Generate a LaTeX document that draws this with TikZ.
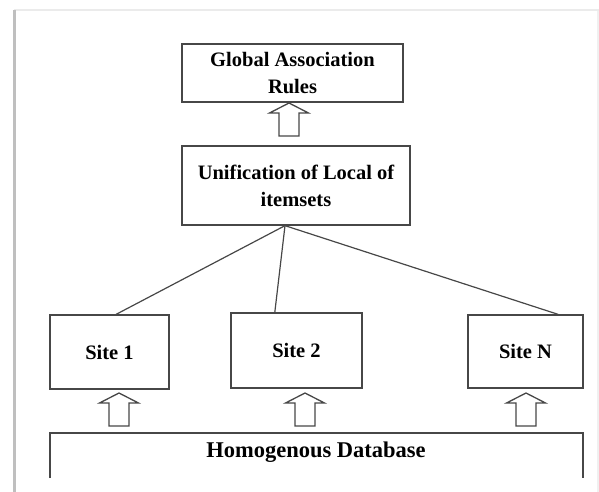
\documentclass[tikz,border=0pt]{standalone}
\usepackage{fontspec}
\setmainfont{Liberation Serif}
\usepackage{tikz}
\usetikzlibrary{calc}

\tikzset{
	box/.style={draw=black!72, line width=1.3pt, fill=white, align=center, font=\bfseries\fontsize{20.5}{27}\selectfont},
	link/.style={draw=black!72, line width=1.2pt},
	hollowup/.pic={\draw[black!72, line width=1.3pt, fill=white, line join=miter]
		(0,0) -- (19.5,10) -- (10,10) -- (10,33) -- (-10,33) -- (-10,10) -- (-19.5,10) -- cycle;}
}

\begin{document}
\begin{tikzpicture}[x=1pt, y=-1pt]
		\useasboundingbox (0,0) rectangle (599,492);
		\draw[black!8, line width=2pt] (14,10) -- (599,10);
		\draw[black!6, line width=1.5pt] (598,11) -- (598,492);
		\draw[black!25, line width=3pt] (14,10) -- (14,492);
		
		\node[box, minimum width=221pt, minimum height=58pt] (glob) at (292.5,73) {Global Association\\Rules};
		\node[box, minimum width=228pt, minimum height=79pt] (unif) at (296,185.5) {Unification of Local of\\itemsets};
		
		\node[box, minimum width=119pt, minimum height=74pt] (s1) at (109.5,352) {Site 1};
		\node[box, minimum width=131pt, minimum height=75pt] (s2) at (296.5,350.5) {Site 2};
		\node[box, minimum width=115pt, minimum height=73pt] (sN) at (525.5,351.5) {Site N};
		
		\coordinate (hub) at ([xshift=-11pt]unif.south);
		\draw[link] (hub) -- ($(s1.north west)!0.555!(s1.north east)$);
		\draw[link] (hub) -- ($(s2.north west)!0.336!(s2.north east)$);
		\draw[link] (hub) -- ($(sN.north west)!0.78!(sN.north east)$);
		
		\pic at (289,103) {hollowup};
		\pic at (119,393) {hollowup};
		\pic at (305,393) {hollowup};
		\pic at (526,393) {hollowup};
		
		\draw[link, line width=1.3pt] (50,478) -- (50,433) -- (583,433) -- (583,478);
		\node[font=\bfseries\fontsize{22.5}{27}\selectfont] (db) at (316,452) {Homogenous Database};
\end{tikzpicture}
\end{document}
